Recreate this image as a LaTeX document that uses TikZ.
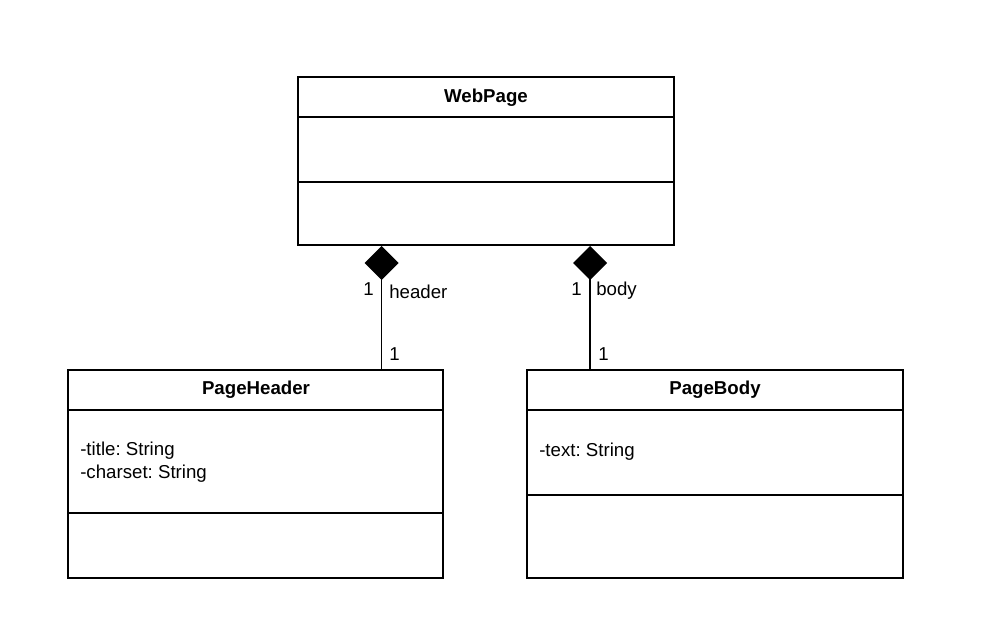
\documentclass[tikz,border=0pt]{standalone}
\usepackage{fontspec}
\setmainfont{Liberation Sans}
\usetikzlibrary{arrows.meta,calc}
\frenchspacing

\begin{document}
\begin{tikzpicture}[x=0.75pt,y=-0.75pt,>=stealth,
  font=\fontsize{14}{16}\selectfont,
  classbox/.style={draw,line width=1.5pt,inner sep=0pt,minimum height=156pt},
  divider/.style={line width=1.5pt},
  classname/.style={anchor=base,inner sep=0pt,font=\fontsize{14}{16}\selectfont\bfseries},
  attr/.style={anchor=base west,inner sep=0pt},
  mult/.style={anchor=base west,inner sep=0pt},
  composition/.style={line width=1.1pt,-{Diamond[length=25.5pt,width=25.5pt]}}]
\useasboundingbox (0,0) rectangle (983,621);

% classes
\node[classbox,minimum width=282pt,minimum height=126pt] (web) at (486,161) {};
\node[classbox,minimum width=281.25pt] (hdr) at (255.5,474) {};
\node[classbox,minimum width=282pt] (bdy) at (715,474) {};

\draw[divider] (web.west |- 0,116.5) -- (web.east |- 0,116.5);
\draw[divider] (web.west |- 0,181.5) -- (web.east |- 0,181.5);
\draw[divider] (hdr.west |- 0,410) -- (hdr.east |- 0,410);
\draw[divider] (hdr.west |- 0,513) -- (hdr.east |- 0,513);
\draw[divider] (bdy.west |- 0,410) -- (bdy.east |- 0,410);
\draw[divider] (bdy.west |- 0,494.5) -- (bdy.east |- 0,494.5);

\node[classname] (webname) at (486,102) {WebPage};
\node[classname] (hdrname) at (256,394) {PageHeader};
\node[classname] (bdyname) at (715,394) {PageBody};

\node[attr] (hdrtitle) at (80,455) {-title: String};
\node[attr] (hdrcharset) at (80,478) {-charset: String};
\node[attr] (bdytext) at (539,456.5) {-text: String};

% compositions
\coordinate (hx) at (381.7,0);
\coordinate (bx) at (590,0);
\draw[composition] (hdr.north -| hx) -- (web.south -| hx);
\draw[composition] (bdy.north -| bx) -- (web.south -| bx);

\node[mult] (hdrmulttop) at (363,295) {1};
\node[mult] (hdrrole) at (389,298) {header};
\node[mult] (hdrmultbot) at (389,360) {1};
\node[mult] (bdymulttop) at (571,295) {1};
\node[mult] (bdyrole) at (596,295) {body};
\node[mult] (bdymultbot) at (598,360) {1};
\end{tikzpicture}
\end{document}
